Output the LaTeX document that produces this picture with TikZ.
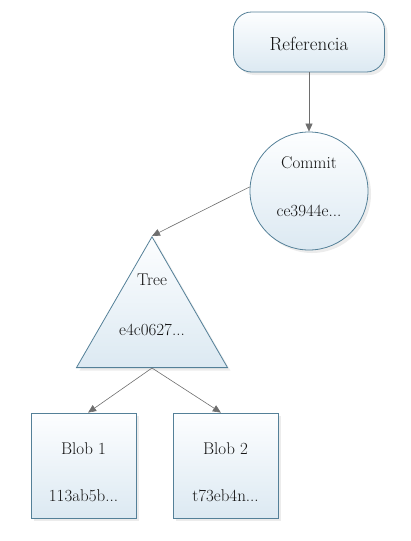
\documentclass[tikz,border=0pt]{standalone}
\usepackage{fontspec}
\usetikzlibrary{shapes.geometric,arrows.meta,shadows}
\definecolor{edgeblue}{RGB}{84,128,152}
\definecolor{filltop}{RGB}{253,254,255}
\definecolor{fillbot}{RGB}{220,233,242}
\definecolor{linegray}{RGB}{110,110,110}
\definecolor{txt}{RGB}{20,20,20}
\tikzset{
  shapebox/.style={draw=edgeblue, line width=0.8pt, top color=filltop, bottom color=fillbot,
    drop shadow={opacity=0.15, shadow xshift=3pt, shadow yshift=-3pt}},
  lbl/.style={text=txt, font=\fontsize{17}{20}\selectfont, inner sep=0pt},
  conn/.style={draw=linegray, line width=0.6pt, -{Triangle[length=8pt,width=7pt]}}
}
\begin{document}
\begin{tikzpicture}[x=1pt,y=-1pt]
\useasboundingbox (0,0) rectangle (411,541);
% shapes
\node[shapebox, rounded corners=18pt, minimum width=151pt, minimum height=60pt, inner sep=0pt] (ref) at (309,42) {};
\node[shapebox, circle, minimum size=118pt, inner sep=0pt] (commit) at (309,191) {};
\node[shapebox, regular polygon, regular polygon sides=3, minimum size=174.4pt, inner sep=0pt] (tree) at (152,324) {};
\node[shapebox, minimum width=105pt, minimum height=105pt, inner sep=0pt] (blob1) at (83.5,465.5) {};
\node[shapebox, minimum width=105pt, minimum height=105pt, inner sep=0pt] (blob2) at (225.5,465.5) {};
% labels
\node[lbl, font=\fontsize{19}{22}\selectfont] (refT) at (309,44) {Referencia};
\node[lbl] (commitT) at (309,163) {Commit};
\node[lbl] (commitH) at (309,211) {ce3944e...};
\node[lbl] (treeT) at (152,280) {Tree};
\node[lbl] (treeH) at (152,330) {e4c0627...};
\node[lbl] (b1T) at (83.5,449) {Blob 1};
\node[lbl] (b1H) at (83.5,496) {113ab5b...};
\node[lbl] (b2T) at (225.5,449) {Blob 2};
\node[lbl] (b2H) at (225.5,496) {t73eb4n...};
% connectors
\draw[conn] (ref.south) -- (commit.north);
\draw[conn] (commit.176) -- (tree.corner 1);
\draw[conn] (tree.south) -- (blob1.85);
\draw[conn] (tree.south) -- (blob2.95);
\end{tikzpicture}
\end{document}
